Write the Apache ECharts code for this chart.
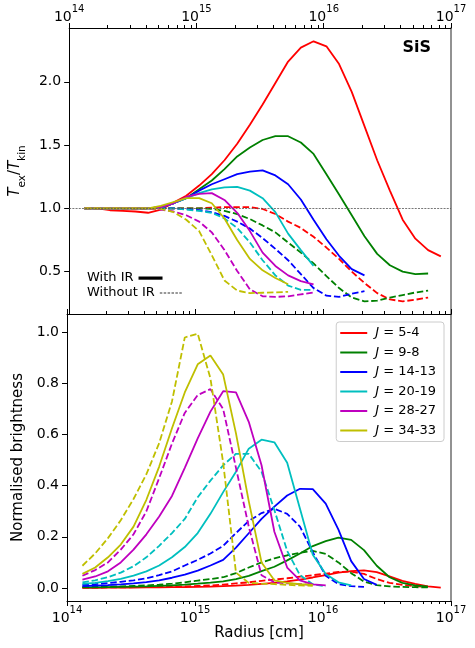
<!DOCTYPE html>
<html><head><meta charset="utf-8">
<script src="https://cdn.jsdelivr.net/npm/echarts@6/dist/echarts.min.js"></script>
<style>html,body{margin:0;padding:0;background:#fff}#c{width:475px;height:648px}</style>
</head><body><div id="c"></div>
<script>
// ---------- data ----------
const radius = [1.32e14,1.66e14,2.09e14,2.63e14,3.31e14,4.17e14,5.25e14,6.61e14,8.32e14,
  1.05e15,1.32e15,1.66e15,2.09e15,2.63e15,3.31e15,4.17e15,5.25e15,6.61e15,8.32e15,
  1.05e16,1.32e16,1.66e16,2.09e16,2.63e16,3.31e16,4.17e16,5.25e16,6.61e16,8.32e16];

const lineNames = ['J = 5-4','J = 9-8','J = 14-13','J = 20-19','J = 28-27','J = 34-33'];
const lineColors = ['#ff0000','#008000','#0000ff','#00bfbf','#bf00bf','#bfbf00'];

// Tex/Tkin, with IR (solid)
const tex54IR   = [1.0,1.0,0.985,0.98,0.975,0.965,0.99,1.045,1.10,1.18,1.27,1.38,1.51,1.66,1.82,1.99,2.16,2.27,2.32,2.28,2.14,1.92,1.65,1.38,1.14,0.91,0.76,0.67,0.62];
const tex98IR   = [1.0,1.0,1.0,1.0,1.0,1.0,1.01,1.04,1.08,1.15,1.22,1.31,1.41,1.48,1.54,1.57,1.57,1.52,1.43,1.27,1.11,0.945,0.78,0.64,0.55,0.50,0.48,0.485];
const tex1413IR = [1.0,1.0,1.0,1.0,1.0,1.0,1.01,1.04,1.08,1.14,1.19,1.23,1.27,1.29,1.30,1.26,1.19,1.07,0.91,0.756,0.625,0.52,0.47];
const tex2019IR = [1.0,1.0,1.0,1.0,1.0,1.0,1.01,1.04,1.08,1.12,1.15,1.165,1.17,1.14,1.08,0.97,0.80,0.67,0.545];
const tex2827IR = [1.0,1.0,1.0,1.0,1.0,1.0,1.01,1.04,1.09,1.115,1.12,1.066,0.965,0.82,0.65,0.545,0.47,0.425,0.40];
const tex3433IR = [1.0,1.0,1.0,1.0,1.0,1.0,1.02,1.05,1.08,1.08,1.04,0.92,0.75,0.60,0.51,0.45,0.40];
// Tex/Tkin, without IR (dashed)
const tex54noIR   = [1.0,1.0,1.0,1.0,1.0,1.0,1.0,1.0,1.0,1.0,1.005,1.01,1.01,1.01,0.995,0.955,0.895,0.845,0.775,0.69,0.60,0.50,0.41,0.33,0.28,0.265,0.278,0.295];
const tex98noIR   = [1.0,1.0,1.0,1.0,1.0,1.0,1.0,1.0,1.0,1.0,0.995,0.98,0.955,0.915,0.865,0.81,0.73,0.65,0.565,0.465,0.37,0.295,0.265,0.27,0.295,0.315,0.335,0.35];
const tex1413noIR = [1.0,1.0,1.0,1.0,1.0,1.0,1.0,1.0,0.995,0.985,0.97,0.94,0.895,0.84,0.765,0.68,0.59,0.48,0.37,0.31,0.30,0.325,0.345];
const tex2019noIR = [1.0,1.0,1.0,1.0,1.0,1.0,1.0,1.0,0.99,0.98,0.965,0.92,0.845,0.73,0.59,0.47,0.39,0.355,0.355];
const tex2827noIR = [1.0,1.0,1.0,1.0,1.0,1.0,0.99,0.975,0.945,0.895,0.81,0.67,0.505,0.36,0.305,0.30,0.305,0.32,0.335];
const tex3433noIR = [1.0,1.0,1.0,1.0,1.0,1.0,0.995,0.97,0.91,0.82,0.63,0.43,0.35,0.33,0.333,0.336,0.34];

// Normalised brightness, with IR (solid)
const br54IR   = [0.0,0.0,0.001,0.001,0.001,0.002,0.002,0.003,0.003,0.004,0.005,0.007,0.009,0.012,0.016,0.02,0.026,0.033,0.041,0.05,0.06,0.066,0.069,0.062,0.045,0.028,0.016,0.006,0.001];
const br98IR   = [0.002,0.002,0.003,0.004,0.005,0.006,0.008,0.010,0.013,0.017,0.021,0.026,0.035,0.047,0.066,0.083,0.108,0.135,0.164,0.183,0.197,0.188,0.148,0.087,0.042,0.02,0.01,0.005];
const br1413IR = [0.007,0.009,0.011,0.014,0.018,0.023,0.03,0.04,0.052,0.068,0.088,0.11,0.158,0.214,0.27,0.318,0.362,0.388,0.387,0.33,0.228,0.105,0.035,0.012];
const br2019IR = [0.016,0.02,0.027,0.036,0.048,0.065,0.088,0.12,0.16,0.215,0.29,0.375,0.455,0.545,0.58,0.57,0.49,0.31,0.13,0.055,0.022,0.01];
const br2827IR = [0.033,0.045,0.065,0.1,0.15,0.21,0.28,0.36,0.47,0.585,0.69,0.77,0.765,0.65,0.48,0.22,0.08,0.03,0.014,0.01];
const br3433IR = [0.055,0.08,0.12,0.17,0.24,0.345,0.475,0.625,0.765,0.875,0.91,0.835,0.605,0.34,0.10,0.03,0.02,0.015,0.012];
// Normalised brightness, without IR (dashed)
const br54noIR   = [0.001,0.001,0.002,0.002,0.003,0.003,0.004,0.005,0.006,0.008,0.01,0.013,0.018,0.022,0.028,0.033,0.038,0.044,0.05,0.056,0.063,0.064,0.055,0.035,0.02,0.012,0.007,0.004];
const br98noIR   = [0.003,0.004,0.005,0.006,0.008,0.01,0.013,0.017,0.022,0.029,0.035,0.042,0.058,0.08,0.10,0.116,0.128,0.138,0.145,0.133,0.10,0.058,0.025,0.011,0.006,0.004,0.003,0.002];
const br1413noIR = [0.012,0.015,0.019,0.024,0.03,0.038,0.05,0.065,0.088,0.11,0.135,0.165,0.215,0.262,0.293,0.31,0.29,0.24,0.14,0.048,0.015,0.007,0.004];
const br2019noIR = [0.022,0.03,0.042,0.06,0.085,0.12,0.165,0.215,0.27,0.355,0.42,0.48,0.525,0.525,0.455,0.305,0.145,0.05,0.015,0.006];
const br2827noIR = [0.048,0.07,0.1,0.15,0.21,0.30,0.43,0.565,0.685,0.755,0.778,0.70,0.47,0.24,0.05,0.022,0.018,0.015,0.012];
const br3433noIR = [0.087,0.135,0.195,0.265,0.348,0.445,0.567,0.73,0.98,0.995,0.82,0.49,0.06,0.02,0.017,0.015,0.012,0.01,0.008];

const texIR = [tex54IR,tex98IR,tex1413IR,tex2019IR,tex2827IR,tex3433IR];
const texNoIR = [tex54noIR,tex98noIR,tex1413noIR,tex2019noIR,tex2827noIR,tex3433noIR];
const brIR = [br54IR,br98IR,br1413IR,br2019IR,br2827IR,br3433IR];
const brNoIR = [br54noIR,br98noIR,br1413noIR,br2019noIR,br2827noIR,br3433noIR];

// ticks
const texTicks = [0.5,1.0,1.5,2.0];
const brTicks = [0.0,0.2,0.4,0.6,0.8,1.0];
const minorTickValues = [2e14,3e14,4e14,5e14,6e14,7e14,8e14,9e14,2e15,3e15,4e15,5e15,6e15,7e15,8e15,9e15,2e16,3e16,4e16,5e16,6e16,7e16,8e16,9e16];

// ---------- layout ----------
const FONT = 'DejaVu Sans';
const X_MIN = 1e14, X_MAX = 1e17;
const TEX_MIN = 0.165, TEX_MAX = 2.425;
const BR_MIN = -0.051, BR_MAX = 1.072;

const chart = echarts.init(document.getElementById('c'), null, {renderer:'canvas'});

const supRich = {
  b: {fontFamily:FONT, fontSize:14, color:'#000', lineHeight:20, verticalAlign:'bottom'},
  s: {fontFamily:FONT, fontSize:10, color:'#000', lineHeight:12, verticalAlign:'top'}
};
function powLabel(v){ return '{b|10}{s|' + Math.round(Math.log10(v)) + '}'; }

function logAxis(gridIndex, position, showLabels, showTicks, extra){
  return Object.assign({
    type:'log', logBase:10, gridIndex, position, min:X_MIN, max:X_MAX,
    axisLine:{show:true, onZero:false, lineStyle:{color:'#000', width:1}},
    axisTick:{show:showTicks, inside:false, length:5, lineStyle:{color:'#000', width:1}},
    axisLabel:{show:showLabels, formatter:powLabel, rich:supRich, margin:4, showMinLabel:true, showMaxLabel:true},
    splitLine:{show:false}, minorTick:{show:false}, minorSplitLine:{show:false}
  }, extra||{});
}
function valAxis(gridIndex, min, max, ticks, fmt, extra){
  return Object.assign({
    type:'value', gridIndex, position:'left', min, max,
    axisLine:{show:true, onZero:false, lineStyle:{color:'#000', width:1}},
    axisTick:{show:true, inside:false, length:5, customValues:ticks, lineStyle:{color:'#000', width:1}},
    axisLabel:{show:true, customValues:ticks, formatter:fmt, fontFamily:FONT, fontSize:14, color:'#000', margin:8},
    splitLine:{show:false}
  }, extra||{});
}
function rightAxis(gridIndex, min, max){
  return {type:'value', gridIndex, position:'right', min, max,
    axisLine:{show:true, onZero:false, lineStyle:{color:'#777', width:1.6}},
    axisTick:{show:false}, axisLabel:{show:false}, splitLine:{show:false}};
}
function minorTicks(xIdx, yIdx, yEdge, dir){
  return {type:'custom', xAxisIndex:xIdx, yAxisIndex:yIdx, silent:true, clip:false, z:5,
    data: minorTickValues.map(v => [v, yEdge]),
    renderItem: (params, api) => {
      const p = api.coord([api.value(0), api.value(1)]);
      const x = Math.round(p[0]) + 0.5;
      return {type:'line', shape:{x1:x, y1:p[1], x2:x, y2:p[1] + dir*3}, style:{stroke:'#000', lineWidth:1}};
    }};
}
function pairs(vals){ return vals.map((v,i) => [radius[i], v]); }

const series = [];
for (let k = 0; k < 6; k++) {
  series.push({type:'line', name:lineNames[k], xAxisIndex:2, yAxisIndex:2, data:pairs(brIR[k]),
    color:lineColors[k], symbol:'none', showSymbol:false, lineStyle:{width:1.8, color:lineColors[k]}, z:3});
  series.push({type:'line', name:lineNames[k] + ' noIR', xAxisIndex:2, yAxisIndex:2, data:pairs(brNoIR[k]),
    color:lineColors[k], symbol:'none', showSymbol:false, lineStyle:{width:1.8, color:lineColors[k], type:[6.5,2.8]}, z:3});
  series.push({type:'line', name:lineNames[k] + ' tex', xAxisIndex:0, yAxisIndex:0, data:pairs(texIR[k]),
    color:lineColors[k], symbol:'none', showSymbol:false, lineStyle:{width:1.8, color:lineColors[k]}, z:3});
  series.push({type:'line', name:lineNames[k] + ' tex noIR', xAxisIndex:0, yAxisIndex:0, data:pairs(texNoIR[k]),
    color:lineColors[k], symbol:'none', showSymbol:false, lineStyle:{width:1.8, color:lineColors[k], type:[6.5,2.8]}, z:3});
}
// reference line at Tex/Tkin = 1
series.push({type:'line', name:'ref', xAxisIndex:0, yAxisIndex:0, data:[], symbol:'none',
  markLine:{silent:true, symbol:'none', label:{show:false}, animation:false,
    lineStyle:{color:'#555', width:0.8, type:[2,1.2]}, data:[{yAxis:1.0}]}, z:2});
// legend-only series for the IR key
series.push({type:'line', name:'With IR', xAxisIndex:0, yAxisIndex:0, data:[], color:'#000', symbol:'none', lineStyle:{color:'#000', width:3.5}});
series.push({type:'line', name:'Without IR', xAxisIndex:0, yAxisIndex:0, data:[], color:'#333', symbol:'none', lineStyle:{color:'#333', width:1, type:[2.4,1.3]}});
// minor ticks
series.push(minorTicks(1, 0, TEX_MAX, -1));
series.push(minorTicks(3, 2, BR_MAX, -1));
series.push(minorTicks(2, 2, BR_MIN, 1));

const ICON_LINE = 'path://M0,0M0,14M0,6h27v2h-27z';
const ICON_THICK = 'path://M0,0M0,14M0,5.5h24v3.2h-24z';
const ICON_DASH = 'path://M0,0M0,14M0,6.5h2.5v1h-2.5zM3.9,6.5h2.5v1h-2.5zM7.8,6.5h2.5v1h-2.5zM11.7,6.5h2.5v1h-2.5zM15.6,6.5h2.5v1h-2.5zM19.5,6.5h2.5v1h-2.5z';

const option = {
  animation:false,
  backgroundColor:'#fff',
  textStyle:{fontFamily:FONT, color:'#000'},
  title:{text:'SiS', right:44, top:40, padding:0,
    textStyle:{fontFamily:FONT, fontWeight:'bold', fontSize:16, color:'#000'}},
  grid:[
    {left:67, right:24, top:28, height:286, containLabel:false},
    {left:67, right:24, top:314, height:287, containLabel:false}
  ],
  xAxis:[
    logAxis(0, 'bottom', false, false),
    logAxis(0, 'top', true, true),
    logAxis(1, 'bottom', true, true, {name:'Radius [cm]', nameLocation:'middle', nameGap:24,
      nameTextStyle:{fontFamily:FONT, fontSize:15, color:'#000'}}),
    logAxis(1, 'top', false, true)
  ],
  yAxis:[
    valAxis(0, TEX_MIN, TEX_MAX, texTicks, v => v.toFixed(1), {
      name:'{t|T}{sub|ex}{n|/}{t|T}{sub|kin}', nameLocation:'middle', nameGap:33,
      nameTextStyle:{rich:{
        t:{fontFamily:FONT, fontStyle:'italic', fontSize:15, color:'#000', lineHeight:20, verticalAlign:'top'},
        n:{fontFamily:FONT, fontSize:15, color:'#000', lineHeight:20, verticalAlign:'top'},
        sub:{fontFamily:FONT, fontSize:10.5, color:'#000', lineHeight:12, verticalAlign:'bottom'}
      }}}),
    rightAxis(0, TEX_MIN, TEX_MAX),
    valAxis(1, BR_MIN, BR_MAX, brTicks, v => v.toFixed(1), {
      name:'Normalised brightness', nameLocation:'middle', nameGap:35,
      nameTextStyle:{fontFamily:FONT, fontSize:15, color:'#000'}}),
    rightAxis(1, BR_MIN, BR_MAX)
  ],
  legend:[
    {data:lineNames, orient:'vertical', right:31, top:322, padding:[4,8,4,4],
      icon:ICON_LINE, itemWidth:27, itemHeight:14, itemGap:5.5,
      backgroundColor:'rgba(255,255,255,0.8)', borderColor:'#cccccc', borderWidth:1, borderRadius:3,
      formatter: name => '{i|J}' + name.substring(1),
      textStyle:{fontFamily:FONT, fontSize:13, color:'#000', padding:[0,0,0,3],
        rich:{i:{fontFamily:FONT, fontStyle:'italic', fontSize:13, color:'#000'}}},
      selectedMode:false},
    {data:['With IR'], icon:ICON_THICK, left:87, top:271, padding:0, align:'right',
      itemWidth:24, itemHeight:14,
      textStyle:{fontFamily:FONT, fontSize:13, color:'#000'}, selectedMode:false},
    {data:['Without IR'], icon:ICON_DASH, left:87, top:286, padding:0, align:'right',
      itemWidth:22, itemHeight:14,
      textStyle:{fontFamily:FONT, fontSize:13, color:'#000'}, selectedMode:false}
  ],
  series
};
chart.setOption(option);
</script>
</body></html>
